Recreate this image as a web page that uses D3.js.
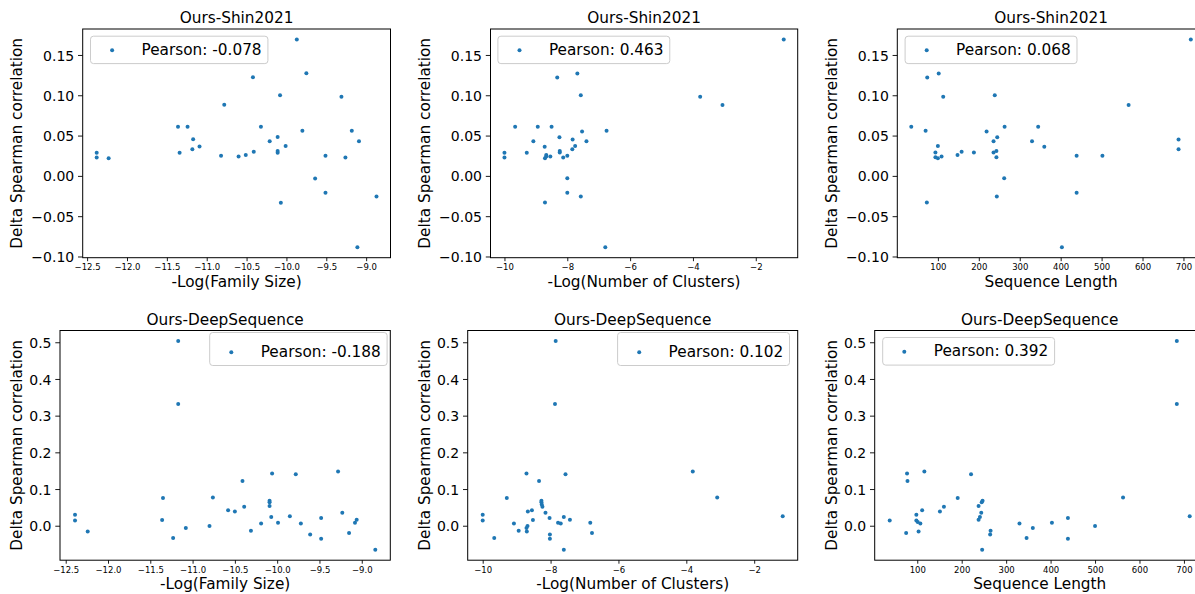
<!DOCTYPE html>
<html>
<head>
<meta charset="utf-8">
<script src="https://cdn.jsdelivr.net/npm/d3@7"></script>
<style>
  body { margin: 0; background: #fff; }
  svg { display: block; font-family: "DejaVu Sans", sans-serif; }
</style>
</head>
<body>
<div id="chart"></div>
<script>
// ---- data ----
var shinFamX = [-12.38,-12.38,-12.23,-11.36,-11.34,-11.24,-11.17,-11.18,-11.09,-10.82,-10.78,-10.60,-10.51,-10.42,-10.41,-10.32,-10.21,-10.11,-10.11,-10.11,-10.08,-10.07,-10.01,-9.87,-9.80,-9.75,-9.64,-9.51,-9.51,-9.31,-9.26,-9.18,-9.09,-9.11,-8.87];
var shinFamY = [0.0288,0.0227,0.0218,0.061,0.0288,0.061,0.0453,0.033,0.0363,0.0251,0.0882,0.0239,0.026,0.1224,0.030,0.061,0.0428,0.0482,0.0309,0.0288,0.100,-0.0334,0.0371,0.1693,0.056,0.1273,-0.0033,0.0251,-0.021,0.098,0.0227,0.056,0.0428,-0.0886,-0.0255];

var shinClustX = [-10.0,-10.0,-9.66,-9.29,-9.08,-8.94,-8.72,-8.71,-8.71,-8.67,-8.67,-8.54,-8.50,-8.32,-8.25,-8.24,-8.24,-8.13,-8.0,-8.0,-8.0,-7.84,-7.83,-7.75,-7.68,-7.57,-7.57,-7.53,-7.39,-6.79,-6.75,-3.77,-3.06,-1.11];
var shinClustY = [0.0288,0.0227,0.061,0.0288,0.0428,0.061,0.036,-0.033,0.022,0.026,0.024,0.024,0.061,0.122,0.048,0.031,0.029,0.0227,0.025,-0.003,-0.021,0.033,0.045,0.037,0.127,0.100,-0.0255,0.055,0.043,-0.0886,0.056,0.098,0.088,0.1693];

var shinLenX = [35,70,74,73,94,94,100,100,102,109,113,148,158,188,219,236,236,239,243,243,245,244,263,262,330,345,360,403,439,439,502,566,688,688,718];
var shinLenY = [0.061,0.056,0.122,-0.033,0.029,0.023,0.037,0.022,0.127,0.024,0.098,0.026,0.030,0.029,0.055,0.043,0.029,0.100,0.023,0.031,0.048,-0.0255,0.061,-0.003,0.043,0.061,0.036,-0.0886,0.025,-0.021,0.025,0.088,0.045,0.033,0.1693];

var deepFamX = [-12.39,-12.39,-12.24,-11.35,-11.36,-11.23,-11.17,-11.17,-11.08,-10.80,-10.76,-10.58,-10.50,-10.41,-10.39,-10.31,-10.19,-10.09,-10.09,-10.09,-10.07,-10.06,-9.99,-9.85,-9.78,-9.72,-9.61,-9.48,-9.48,-9.28,-9.23,-9.15,-9.08,-9.06,-8.84];
var deepFamY = [0.030,0.0145,-0.0155,0.0755,0.0155,-0.0336,0.5036,0.332,-0.0064,-0.001,0.077,0.042,0.039,0.122,0.052,-0.014,0.0064,0.068,0.064,0.054,0.024,0.142,0.008,0.0255,0.140,0.0064,-0.0236,0.021,-0.0355,0.148,0.0355,-0.020,0.008,0.016,-0.0655];

var deepClustX = [-10.0,-10.0,-9.66,-9.29,-9.08,-8.94,-8.71,-8.71,-8.70,-8.68,-8.67,-8.55,-8.52,-8.34,-8.27,-8.27,-8.26,-8.24,-8.15,-8.03,-8.02,-8.02,-7.85,-7.87,-7.78,-7.70,-7.61,-7.61,-7.56,-7.43,-6.83,-6.78,-3.81,-3.09,-1.16];
var deepClustY = [0.030,0.0145,-0.0336,0.0755,0.0064,-0.014,0.142,-0.0064,-0.0155,-0.001,0.039,0.042,0.0155,0.122,0.068,0.064,0.058,0.052,0.0355,0.021,-0.0236,-0.0355,0.5036,0.332,0.008,0.0064,0.024,-0.0655,0.140,0.016,0.008,-0.020,0.148,0.077,0.0255];

var deepLenX = [38,75,77,78,98,98,101,103,107,111,116,151,160,191,221,238,238,241,244,245,247,246,265,264,330,346,360,403,439,439,500,563,684,684,713];
var deepLenY = [0.0145,-0.020,0.142,0.122,0.030,0.0145,0.010,-0.0155,0.0064,0.042,0.148,0.039,0.052,0.0755,0.140,0.054,0.016,0.024,0.0355,0.064,0.068,-0.0655,-0.014,-0.0236,0.0064,-0.0336,-0.0064,0.008,0.021,-0.0355,-0.001,0.077,0.5036,0.332,0.0255];

var pearson = [-0.078, 0.463, 0.068, -0.188, 0.102, 0.392];
var titles = ["Ours-Shin2021","Ours-Shin2021","Ours-Shin2021","Ours-DeepSequence","Ours-DeepSequence","Ours-DeepSequence"];
var xLabels = ["-Log(Family Size)","-Log(Number of Clusters)","Sequence Length"];
var yLabel = "Delta Spearman correlation";

var famTicks = [-12.5,-12.0,-11.5,-11.0,-10.5,-10.0,-9.5,-9.0];
var clustTicks = [-10,-8,-6,-4,-2];
var lenTicks = [100,200,300,400,500,600,700];
var shinTicks = [-0.10,-0.05,0.00,0.05,0.10,0.15];
var deepTicks = [0.0,0.1,0.2,0.3,0.4,0.5];

// ---- layout ----
var W = 1195, H = 594;
var color = "#1f77b4";

// leg: [side, gap from side, gap from top, box height]
var panels = [
  {xs: shinFamX, ys: shinFamY, xt: famTicks, xf: ".1f", yt: shinTicks, yf: ".2f", box: [82.7, 29, 307.8, 228.7], yl: 60.5, leg: ["left", 7.8, 7.2, 27.4]},
  {xs: shinClustX, ys: shinClustY, xt: clustTicks, xf: "d", yt: shinTicks, yf: ".2f", box: [490.5, 29, 307.2, 228.7], yl: 60.5, leg: ["left", 7.4, 7.2, 27.4]},
  {xs: shinLenX, ys: shinLenY, xt: lenTicks, xf: "d", yt: shinTicks, yf: ".2f", box: [897.3, 29, 307.5, 228.7], yl: 60.5, leg: ["left", 7.8, 7.2, 27.4]},
  {xs: deepFamX, ys: deepFamY, xt: famTicks, xf: ".1f", yt: deepTicks, yf: ".1f", box: [60, 330.5, 330.3, 229.7], yl: 37.8, leg: ["right", 3.2, 2, 33]},
  {xs: deepClustX, ys: deepClustY, xt: clustTicks, xf: "d", yt: deepTicks, yf: ".1f", box: [467.7, 330.5, 330, 229.7], yl: 37.8, leg: ["right", 8.2, 2, 33]},
  {xs: deepLenX, ys: deepLenY, xt: lenTicks, xf: "d", yt: deepTicks, yf: ".1f", box: [874.7, 330.5, 330, 229.7], yl: 37.8, leg: ["left", 8, 7, 27.6]}
];

// matplotlib style 5% margins
function padded(vals) {
  var e = d3.extent(vals), m = (e[1] - e[0]) * 0.05;
  return [e[0] - m, e[1] + m];
}

var svg = d3.select("#chart").append("svg")
  .attr("width", W)
  .attr("height", H);

panels.forEach(function(p, i) {
  var left = p.box[0], top = p.box[1], w = p.box[2], h = p.box[3];
  var x = d3.scaleLinear().domain(padded(p.xs)).range([0, w]);
  var y = d3.scaleLinear().domain(padded(p.ys)).range([h, 0]);

  var g = svg.append("g").attr("transform", "translate(" + left + "," + top + ")");

  // points
  g.append("g").selectAll("circle")
    .data(p.xs)
    .enter().append("circle")
    .attr("cx", function(d) { return x(d); })
    .attr("cy", function(d, j) { return y(p.ys[j]); })
    .attr("r", 2)
    .attr("fill", color);

  // x axis
  var xa = g.append("g").attr("transform", "translate(0," + h + ")")
    .call(d3.axisBottom(x).tickValues(p.xt).tickSize(3.5).tickFormat(d3.format(p.xf)));
  xa.select(".domain").remove();
  xa.selectAll("line").attr("stroke", "#000").attr("stroke-width", 0.9);
  xa.selectAll("text").attr("y", 12.6).attr("dy", null)
    .attr("font-size", 8.5).attr("fill", "#000").attr("font-family", "DejaVu Sans");

  // y axis
  var ya = g.append("g")
    .call(d3.axisLeft(y).tickValues(p.yt).tickSize(4.7).tickFormat(d3.format(p.yf)));
  ya.select(".domain").remove();
  ya.selectAll("line").attr("stroke", "#000").attr("stroke-width", 0.9);
  ya.selectAll("text").attr("x", -8.5).attr("dy", "0.36em")
    .attr("font-size", 14).attr("fill", "#000").attr("font-family", "DejaVu Sans");

  // frame
  g.append("rect").attr("width", w).attr("height", h)
    .attr("fill", "none").attr("stroke", "#000").attr("stroke-width", 1);

  // title and labels
  g.append("text").attr("x", w / 2).attr("y", -5.8)
    .attr("text-anchor", "middle").attr("font-size", 15.3).text(titles[i]);
  g.append("text").attr("x", w / 2).attr("y", h + 29.2)
    .attr("text-anchor", "middle").attr("font-size", 15.3).text(xLabels[i % 3]);
  g.append("text")
    .attr("transform", "translate(" + (-p.yl) + "," + (h / 2) + ") rotate(-90)")
    .attr("text-anchor", "middle").attr("font-size", 15.3).text(yLabel);

  // legend
  var lg = g.append("g");
  var box = lg.append("rect").attr("rx", 3).attr("ry", 3)
    .attr("fill", "#fff").attr("fill-opacity", 0.8)
    .attr("stroke", "#cccccc").attr("stroke-width", 1);
  var lt = lg.append("text").attr("font-size", 15.3)
    .text("Pearson: " + pearson[i].toFixed(3));
  var tw = lt.node().getComputedTextLength();
  var bw = tw + 57.3, bh = p.leg[3];
  var bx = p.leg[0] === "left" ? p.leg[1] : w - p.leg[1] - bw;
  var by = p.leg[2];
  box.attr("x", bx).attr("y", by).attr("width", bw).attr("height", bh);
  lt.attr("x", bx + 51).attr("y", by + bh - 8.8);
  lg.append("circle").attr("cx", bx + 21.6).attr("cy", by + bh - 13.3)
    .attr("r", 2).attr("fill", color);
});
</script>
</body>
</html>
